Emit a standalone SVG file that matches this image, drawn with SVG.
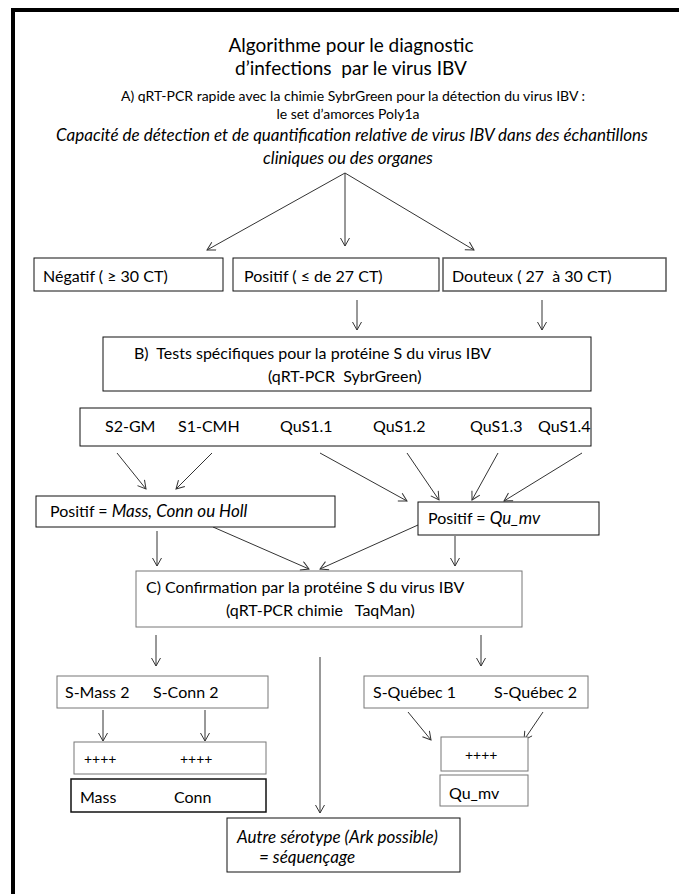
<svg xmlns="http://www.w3.org/2000/svg" width="679" height="894" viewBox="0 0 679 894">
<defs>
<marker id="ah" markerWidth="12" markerHeight="12" refX="9" refY="5" orient="auto" markerUnits="userSpaceOnUse">
<path d="M1,0.5 L9,5 L1,9.5" fill="none" stroke="#333" stroke-width="1"/>
</marker>
</defs>
<style>
text{font-family:Lato,"Liberation Sans",sans-serif;fill:#000}
.t{font-size:19px}
.s{font-size:14px}
.i{font-size:17px;font-style:italic}
.b{font-size:16px}
.bi{font-size:17px;font-style:italic}
.it{font-size:17px;font-style:italic}
.box{fill:#fff;stroke:#111;stroke-width:1}
.gbox{fill:#fff;stroke:#777;stroke-width:1}
.c line{stroke:#333;stroke-width:1;marker-end:url(#ah)}
</style>
<rect width="679" height="894" fill="#fff"/>
<path d="M13,894 V10 H679" fill="none" stroke="#000" stroke-width="4"/>
<g id="header">
<text class="t" x="351" y="52" text-anchor="middle">Algorithme pour le diagnostic</text>
<text class="t" x="351" y="75" text-anchor="middle" xml:space="preserve">d’infections  par le virus IBV</text>
<text class="s" x="353" y="101" text-anchor="middle">A) qRT-PCR rapide avec la chimie SybrGreen pour la détection du virus IBV :</text>
<text class="s" x="348" y="119" text-anchor="middle">le set d’amorces Poly1a</text>
<text class="i" x="352" y="141" text-anchor="middle">Capacité de détection et de quantification relative de virus IBV dans des échantillons</text>
<text class="i" x="348" y="164" text-anchor="middle">cliniques ou des organes</text>
</g>
<g class="c" id="connectors">
<line x1="345" y1="173" x2="207" y2="250"/>
<line x1="345" y1="173" x2="345" y2="246"/>
<line x1="345" y1="173" x2="474" y2="250"/>
<line x1="357" y1="300" x2="357" y2="330"/>
<line x1="542" y1="300" x2="542" y2="330"/>
<line x1="117" y1="453" x2="146" y2="489"/>
<line x1="212" y1="453" x2="176" y2="489"/>
<line x1="320" y1="453" x2="407" y2="501"/>
<line x1="407" y1="453" x2="439" y2="500"/>
<line x1="498" y1="453" x2="472" y2="500"/>
<line x1="582" y1="453" x2="504" y2="501"/>
<line x1="157" y1="531" x2="157" y2="566"/>
<line x1="213" y1="527" x2="309" y2="569"/>
<line x1="418" y1="525" x2="320" y2="569"/>
<line x1="455" y1="536" x2="455" y2="566"/>
<line x1="156" y1="635" x2="156" y2="666"/>
<line x1="481" y1="635" x2="481" y2="666"/>
<line x1="320" y1="657" x2="320" y2="813"/>
<line x1="103" y1="710" x2="103" y2="741"/>
<line x1="205" y1="710" x2="205" y2="741"/>
<line x1="408" y1="712" x2="431" y2="740"/>
<line x1="543" y1="712" x2="524" y2="740"/>
</g>
<g id="negatif"><rect class="box" x="34" y="258" width="189" height="33"/><text class="b" x="43" y="282">Négatif ( ≥ 30 CT)</text></g>
<g id="positif"><rect class="box" x="233" y="258" width="206" height="33"/><text class="b" x="244" y="282">Positif ( ≤ de 27 CT)</text></g>
<g id="douteux"><rect class="box" x="443" y="258" width="223" height="33" style="stroke:#555;stroke-width:1.5"/><text class="b" x="452" y="282" xml:space="preserve">Douteux ( 27  à 30 CT)</text></g>
<g id="testsB"><rect class="box" x="103" y="337" width="488" height="54"/>
<text class="b" x="134" y="359" xml:space="preserve">B)  Tests spécifiques pour la protéine S du virus IBV</text>
<text class="b" x="268" y="382" xml:space="preserve">(qRT-PCR  SybrGreen)</text></g>
<g id="tests"><rect class="box" x="80" y="408" width="511" height="38"/>
<text class="b" x="105" y="432">S2-GM</text>
<text class="b" x="178" y="432">S1-CMH</text>
<text class="b" x="280" y="432">QuS1.1</text>
<text class="b" x="373" y="432">QuS1.2</text>
<text class="b" x="470" y="432">QuS1.3</text>
<text class="b" x="538" y="432">QuS1.4</text></g>
<g id="posMass"><rect class="box" x="36" y="496" width="299" height="31"/><text class="b" x="50" y="517">Positif = <tspan class="it">Mass, Conn ou Holl</tspan></text></g>
<g id="posQu"><rect class="box" x="418" y="502" width="181" height="33"/><text class="b" x="428" y="524">Positif = <tspan class="it">Qu_mv</tspan></text></g>
<g id="confC"><rect class="gbox" x="136" y="571" width="386" height="56"/>
<text class="b" x="146" y="593">C) Confirmation par la protéine S du virus IBV</text>
<text class="b" x="226" y="616" xml:space="preserve">(qRT-PCR chimie   TaqMan)</text></g>
<g id="sMass"><rect class="gbox" x="57" y="676" width="211" height="32"/>
<text class="b" x="65" y="698">S-Mass 2</text><text class="b" x="153" y="698">S-Conn 2</text></g>
<g id="sQuebec"><rect class="gbox" x="364" y="676" width="224" height="32"/>
<text class="b" x="373" y="698">S-Québec 1</text><text class="b" x="494" y="698">S-Québec 2</text></g>
<g id="plusMass"><rect class="gbox" x="74" y="742" width="192" height="32"/>
<text class="s" x="84" y="764">++++</text><text class="s" x="180" y="764">++++</text></g>
<g id="massConn"><rect class="box" x="71" y="779" width="195" height="33" style="stroke-width:1.5"/>
<text class="b" x="80" y="803">Mass</text><text class="b" x="174" y="803">Conn</text></g>
<g id="plusQu"><rect class="gbox" x="441" y="737" width="87" height="34"/>
<text class="s" x="465" y="760">++++</text></g>
<g id="quMv"><rect class="gbox" x="440" y="775" width="88" height="31"/>
<text class="b" x="449" y="799">Qu_mv</text></g>
<g id="autre"><rect class="box" x="227" y="818" width="233" height="54"/>
<text class="bi" x="237" y="843">Autre sérotype (Ark possible)</text>
<text class="bi" x="259" y="863">= séquençage</text></g>
</svg>
